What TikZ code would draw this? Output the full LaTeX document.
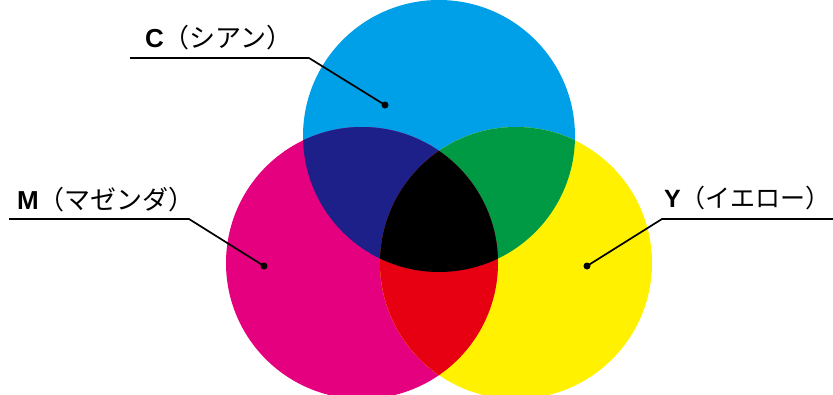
\documentclass[tikz,border=0pt]{standalone}
\usepackage{fontspec}
\setmainfont{Noto Sans CJK JP}
\newfontfamily\latfont{Liberation Sans}
\definecolor{cyanc}{HTML}{00A0E9}
\definecolor{magc}{HTML}{E4007F}
\definecolor{yelc}{HTML}{FFF100}
\definecolor{bluec}{HTML}{1D2088}
\definecolor{greenc}{HTML}{009944}
\definecolor{redc}{HTML}{E60012}
\begin{document}
\begin{tikzpicture}[x=1pt,y=-1pt,
  lbl/.style={inner sep=0pt,anchor=base west,font=\fontsize{26}{26}\selectfont},
  leader/.style={line width=1.7pt,black},
  dotmark/.style={fill=black,circle,inner sep=0pt,minimum size=7pt}]
\useasboundingbox (0,0) rectangle (833,394);
\clip (0,0) rectangle (833,394);
\def\R{136}
\coordinate (cc) at (439,136);
\coordinate (mc) at (362,263);
\coordinate (yc) at (516,263);
% base circles
\fill[cyanc] (cc) circle (\R);
\fill[magc] (mc) circle (\R);
\fill[yelc] (yc) circle (\R);
% pairwise overlaps
\begin{scope}\clip (cc) circle (\R); \fill[bluec] (mc) circle (\R);\end{scope}
\begin{scope}\clip (cc) circle (\R); \fill[greenc] (yc) circle (\R);\end{scope}
\begin{scope}\clip (mc) circle (\R); \fill[redc] (yc) circle (\R);\end{scope}
\begin{scope}\clip (cc) circle (\R); \clip (mc) circle (\R); \fill[black] (yc) circle (\R);\end{scope}
% labels
\node[lbl] (lc) at (145,47) {{\latfont\bfseries C}（シアン）\kern-0.55em};
\node[lbl] (lm) at (17,209) {{\latfont\bfseries M}（マゼンダ）\kern-0.55em};
\node[lbl,font=\fontsize{25}{25}\selectfont] (ly) at (664,207) {{\latfont\bfseries Y}（イエロー）\kern-0.55em};
% leader coordinates
\coordinate (cs) at (130,58);
\coordinate (ce) at (309,58);
\node[dotmark] (cd) at (385,105) {};
\coordinate (ms) at (9,219);
\coordinate (me) at (189,219);
\node[dotmark] (md) at (264,266) {};
\coordinate (ys) at (833,219);
\coordinate (ye) at (662,219);
\node[dotmark] (yd) at (587,266) {};
\draw[leader] (cs) -- (ce) -- (cd.center);
\draw[leader] (ms) -- (me) -- (md.center);
\draw[leader] (ys) -- (ye) -- (yd.center);
\end{tikzpicture}
\end{document}
